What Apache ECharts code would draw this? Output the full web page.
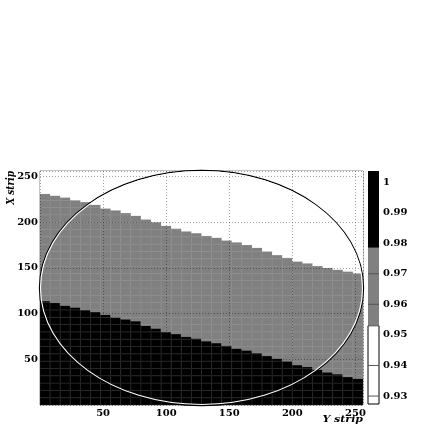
<!DOCTYPE html>
<html>
<head>
<meta charset="utf-8">
<script src="https://cdn.jsdelivr.net/npm/echarts@6/dist/echarts.min.js"></script>
<style>
html, body { margin: 0; padding: 0; background: #fff; }
#main { width: 436px; height: 436px; }
</style>
</head>
<body>
<div id="main"></div>
<script>
// 32 columns of 8 strips each along "Y strip"
const binWidth = 8;
const nBins = 32;
const stripMax = 256;
// upper edge (X strip) of the grey band, per column
const greyTop = [231, 229, 227, 224, 222, 219, 215, 213, 210, 207, 203, 200, 196, 193, 190, 188,
                 185, 183, 180, 178, 175, 172, 168, 164, 161, 157, 155, 152, 150, 148, 146, 144];
// upper edge (X strip) of the black band, per column
const blackTop = [114, 112, 109, 107, 104, 102, 99, 96, 94, 92, 87, 84, 80, 78, 75, 73,
                  70, 68, 65, 62, 60, 57, 54, 51, 48, 44, 42, 39, 36, 34, 31, 29];
// value in each band: black, grey, white
const bandValues = [0.99, 0.965, 0.94];

// palette (z axis)
const paletteMin = 0.9274;
const paletteMax = 1.0036;
const paletteEdges = [0.953, 0.9785];
const paletteTicks = [0.93, 0.94, 0.95, 0.96, 0.97, 0.98, 0.99, 1];
const paletteMarks = [0.93, 0.94, 0.96, 0.97];

const axisTicks = [50, 100, 150, 200, 250];
// acceptance circle: centre x, centre y, radius
const circle = [128, 128, 128];

const GREY = '#808080';

// split every column into cells of binWidth x binWidth, cut at band edges
const cells = [];
for (let k = 0; k < nBins; k++) {
  const x0 = k * binWidth;
  const x1 = x0 + binWidth;
  const bands = [
    [0, blackTop[k], bandValues[0]],
    [blackTop[k], greyTop[k], bandValues[1]],
    [greyTop[k], stripMax, bandValues[2]]
  ];
  bands.forEach(function (b) {
    let y = b[0];
    while (y < b[1]) {
      const next = Math.min(b[1], (Math.floor(y / binWidth) + 1) * binWidth);
      cells.push([x0, x1, y, next, b[2]]);
      y = next;
    }
  });
}

const paletteData = [
  [paletteMin, paletteEdges[0], 0.94],
  [paletteEdges[0], paletteEdges[1], 0.965],
  [paletteEdges[1], paletteMax, 0.99]
];

function bandStyle(v) {
  if (v >= paletteEdges[1]) return { fill: '#000', stroke: '#262626' };
  if (v >= paletteEdges[0]) return { fill: GREY, stroke: '#8c8c8c' };
  return { fill: '#fff', stroke: null };
}

const labelFont = {
  fontFamily: 'DejaVu Serif',
  fontWeight: 'bold',
  fontSize: 10,
  color: '#000'
};

let chart = echarts.init(document.getElementById('main'));

const option = {
  animation: false,
  backgroundColor: '#fff',
  grid: [
    { left: 40, top: 171, width: 323, height: 234, show: true, borderColor: '#8a8a8a', borderWidth: 1, backgroundColor: 'transparent' },
    { left: 368, top: 171, width: 11, height: 233 }
  ],
  xAxis: [
    {
      gridIndex: 0, type: 'value', min: 0, max: stripMax, interval: 50, z: 5,
      axisLine: { show: false },
      axisTick: { show: false },
      axisLabel: Object.assign({ margin: 3, showMinLabel: false,
        formatter: function (v) { return axisTicks.indexOf(v) >= 0 ? String(v) : ''; } }, labelFont),
      splitLine: { show: true, lineStyle: { color: 'rgba(0,0,0,0.35)', type: [1, 2], width: 1 } }
    },
    {
      gridIndex: 1, type: 'value', min: 0, max: 1, show: false
    }
  ],
  yAxis: [
    {
      gridIndex: 0, type: 'value', min: 0, max: stripMax, interval: 50, z: 5,
      axisLine: { show: false },
      axisTick: { show: false },
      axisLabel: Object.assign({ margin: 2, showMinLabel: false,
        formatter: function (v) { return axisTicks.indexOf(v) >= 0 ? String(v) : ''; } }, labelFont),
      splitLine: { show: true, lineStyle: { color: 'rgba(0,0,0,0.35)', type: [1, 2], width: 1 } }
    },
    {
      gridIndex: 1, type: 'value', min: paletteMin, max: paletteMax, position: 'right',
      axisLine: { show: false },
      axisTick: { show: false },
      axisLabel: Object.assign({ margin: 4, customValues: paletteTicks,
        formatter: function (v) { return String(+(+v).toFixed(2)); } }, labelFont),
      splitLine: { show: false }
    }
  ],
  series: [
    {
      type: 'custom',
      xAxisIndex: 0, yAxisIndex: 0,
      clip: true,
      encode: { x: [0, 1], y: [2, 3] },
      data: cells,
      renderItem: function (params, api) {
        const p0 = api.coord([api.value(0), api.value(2)]);
        const p1 = api.coord([api.value(1), api.value(3)]);
        const s = bandStyle(api.value(4));
        return {
          type: 'rect',
          shape: { x: p0[0], y: p1[1], width: p1[0] - p0[0], height: p0[1] - p1[1] },
          style: { fill: s.fill, stroke: s.stroke, lineWidth: 0.6 }
        };
      }
    },
    {
      type: 'custom',
      xAxisIndex: 0, yAxisIndex: 0,
      z: 6,
      encode: { x: 0, y: 1 },
      data: [circle],
      renderItem: function (params, api) {
        const c = api.coord([api.value(0), api.value(1)]);
        const rx = api.size([api.value(2), 0])[0];
        const ry = api.size([0, api.value(2)])[1];
        return {
          type: 'group',
          children: [
            { type: 'ellipse', shape: { cx: c[0], cy: c[1], rx: rx + 0.6, ry: ry + 0.6 },
              style: { fill: 'none', stroke: '#000', lineWidth: 1.1 } },
            { type: 'ellipse', shape: { cx: c[0], cy: c[1], rx: rx - 0.5, ry: ry - 0.5 },
              style: { fill: 'none', stroke: '#fff', lineWidth: 1.1 } }
          ]
        };
      }
    },
    {
      type: 'custom',
      xAxisIndex: 1, yAxisIndex: 1,
      encode: { y: [0, 1] },
      data: paletteData,
      renderItem: function (params, api) {
        const p0 = api.coord([0, api.value(0)]);
        const p1 = api.coord([1, api.value(1)]);
        const v = api.value(2);
        const s = bandStyle(v);
        const white = v < paletteEdges[0];
        return {
          type: 'rect',
          shape: { x: p0[0], y: p1[1], width: p1[0] - p0[0], height: p0[1] - p1[1] },
          style: { fill: s.fill, stroke: white ? '#000' : null, lineWidth: 1 }
        };
      }
    },
    {
      // tick marks across the palette
      type: 'custom',
      xAxisIndex: 1, yAxisIndex: 1,
      z: 4,
      encode: { y: 0 },
      data: paletteMarks.map(function (v) { return [v]; }),
      renderItem: function (params, api) {
        const a = api.coord([0, api.value(0)]);
        const b = api.coord([1, api.value(0)]);
        return {
          type: 'line',
          shape: { x1: a[0], y1: a[1], x2: b[0], y2: b[1] },
          style: { stroke: '#555', lineWidth: 1 }
        };
      }
    }
  ],
  graphic: [
    {
      type: 'text', x: 363, y: 420, scaleY: 0.85,
      style: { text: 'Y strip', align: 'right', verticalAlign: 'middle',
        font: 'italic bold 11px "DejaVu Serif"', fill: '#000' }
    },
    {
      type: 'text', x: 11, y: 171, rotation: Math.PI / 2, scaleX: 0.82,
      style: { text: 'X strip', align: 'right', verticalAlign: 'middle',
        font: 'italic bold 11px "DejaVu Serif"', fill: '#000' }
    }
  ]
};

chart.setOption(option);
window.addEventListener('resize', function () {
  chart.resize();
});
</script>
</body>
</html>
